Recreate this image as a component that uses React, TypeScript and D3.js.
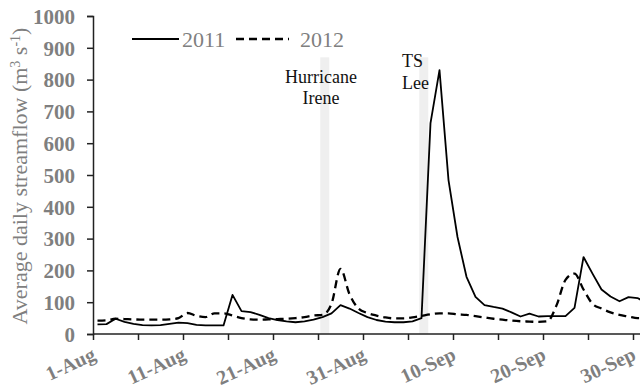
import { useEffect, useRef } from "react";
import * as d3 from "d3";

// daily mean streamflow, 1-Aug .. 1-Oct (m3/s)
const flow2011 = [
  30, 31, 48, 38, 32, 28, 27, 28, 32, 36, 34, 29, 27, 27, 27, 123, 72, 69, 60, 50, 44,
  40, 37, 40, 45, 53, 65, 91, 80, 66, 53, 44, 39, 37, 37, 40, 50, 663, 830, 484, 305,
  180, 117, 91, 85, 80, 68, 55, 64, 55, 56, 56, 56, 82, 242, 190, 140, 118, 103, 116,
  113, 98,
];
const flow2012 = [
  42, 43, 48, 47, 46, 45, 45, 45, 46, 50, 66, 57, 53, 65, 65, 58, 50, 46, 45, 46, 47,
  48, 50, 53, 58, 60, 95, 205, 125, 80, 66, 58, 52, 49, 49, 52, 57, 62, 65, 65, 62,
  60, 56, 52, 48, 45, 42, 40, 39, 38, 40, 90, 170, 190, 140, 95, 80, 68, 60, 55, 50,
  50,
];
const yTicks = [0, 100, 200, 300, 400, 500, 600, 700, 800, 900, 1000];
const xLabels = ["1-Aug", "11-Aug", "21-Aug", "31-Aug", "10-Sep", "20-Sep", "30-Sep"];
const events = [
  { name: ["Hurricane", "Irene"], start: "2011-08-26T06:00", end: "2011-08-27T06:00", top: 870 },
  { name: ["TS", "Lee"], start: "2011-09-06T06:00", end: "2011-09-07T06:00", top: 870 },
];

const W = 640;
const H = 391;
const gray = "#7f7f7f";
const serif = "'Liberation Serif', 'Times New Roman', serif";

export default function App() {
  const ref = useRef<SVGSVGElement>(null);

  useEffect(() => {
    const svg = d3.select(ref.current);
    svg.selectAll("*").remove();

    const start = new Date(2011, 7, 1);
    // points sit in the middle of each day (between tick marks)
    const days = d3.timeDay
      .range(start, d3.timeDay.offset(start, flow2011.length))
      .map((d) => d3.timeHour.offset(d, 12));
    const x = d3.scaleTime().domain([start, new Date(2011, 8, 30)]).range([93, 633]);
    const y = d3.scaleLinear().domain([0, 1000]).range([334, 16]);

    // event bands
    svg.selectAll("rect.ev")
      .data(events)
      .enter()
      .append("rect")
      .attr("x", (d) => x(new Date(d.start)))
      .attr("width", (d) => x(new Date(d.end)) - x(new Date(d.start)))
      .attr("y", (d) => y(d.top))
      .attr("height", (d) => y(0) - y(d.top))
      .attr("fill", "#efefef");

    // y axis
    const yAxis = svg.append("g").attr("transform", "translate(93,0)")
      .call(d3.axisLeft(y).tickValues(yTicks).tickSize(6).tickPadding(12).tickFormat(d3.format("d")));
    yAxis.select(".domain").attr("stroke", "#222").attr("stroke-width", 1.5);
    yAxis.selectAll(".tick line").attr("stroke", "#222").attr("stroke-width", 1.5);
    yAxis.selectAll(".tick text")
      .attr("fill", gray)
      .attr("font-family", serif)
      .attr("font-weight", "bold")
      .attr("font-size", 21)
      .attr("dy", "0.35em");

    // x axis
    const fiveDays = d3.timeDay.range(start, new Date(2011, 9, 1), 5);
    const xAxis = svg.append("g").attr("transform", "translate(0,334)")
      .call(d3.axisBottom(x).tickValues(fiveDays).tickSize(6).tickFormat(() => ""));
    xAxis.select(".domain").attr("stroke", "#222").attr("stroke-width", 1.5)
      .attr("d", `M93,0H${W}`);
    xAxis.selectAll(".tick line").attr("stroke", "#222").attr("stroke-width", 1.5);

    svg.append("g")
      .selectAll("text")
      .data(xLabels)
      .enter()
      .append("text")
      .attr("transform", (_, i) => `translate(${x(fiveDays[i * 2]) + 4},359) rotate(-25)`)
      .attr("text-anchor", "end")
      .attr("fill", gray)
      .attr("font-family", serif)
      .attr("font-weight", "bold")
      .attr("font-size", 20)
      .text((d) => d);

    // y title
    svg.append("text")
      .attr("transform", "translate(27,176) rotate(-90)")
      .attr("text-anchor", "middle")
      .attr("fill", gray)
      .attr("font-family", serif)
      .attr("font-size", 22)
      .html("Average daily streamflow (m<tspan dy='-7' font-size='14'>3</tspan><tspan dy='7'> s</tspan><tspan dy='-7' font-size='14'>-1</tspan><tspan dy='7'>)</tspan>");

    // lines
    const line2011 = d3.line<number>()
      .x((_, i) => x(days[i]))
      .y((d) => y(d));
    const line2012 = d3.line<number>()
      .x((_, i) => x(days[i]))
      .y((d) => y(d))
      .curve(d3.curveMonotoneX);

    svg.append("path")
      .attr("d", line2012(flow2012))
      .attr("fill", "none")
      .attr("stroke", "#000")
      .attr("stroke-width", 2.3)
      .attr("stroke-dasharray", "8,5");

    svg.append("path")
      .attr("d", line2011(flow2011))
      .attr("fill", "none")
      .attr("stroke", "#000")
      .attr("stroke-width", 1.8)
      .attr("stroke-linejoin", "round");

    // event labels
    const irene = svg.append("text")
      .attr("text-anchor", "middle")
      .attr("font-family", serif)
      .attr("font-size", 18)
      .attr("fill", "#111");
    irene.append("tspan").attr("x", 321).attr("y", 83).text(events[0].name[0]);
    irene.append("tspan").attr("x", 321).attr("y", 104).text(events[0].name[1]);

    const lee = svg.append("text")
      .attr("font-family", serif)
      .attr("font-size", 18)
      .attr("fill", "#111");
    lee.append("tspan").attr("x", 402).attr("y", 67).text(events[1].name[0]);
    lee.append("tspan").attr("x", 402).attr("y", 89).text(events[1].name[1]);

    // legend
    const legend = [
      { label: "2011", dash: null, x1: 132, x2: 179, tx: 182 },
      { label: "2012", dash: "8,5", x1: 236, x2: 289, tx: 300 },
    ];
    legend.forEach((l) => {
      svg.append("line")
        .attr("x1", l.x1).attr("x2", l.x2)
        .attr("y1", 39).attr("y2", 39)
        .attr("stroke", "#000")
        .attr("stroke-width", l.dash ? 2.3 : 1.8)
        .attr("stroke-dasharray", l.dash);
      svg.append("text")
        .attr("x", l.tx).attr("y", 47)
        .attr("fill", gray)
        .attr("font-family", serif)
        .attr("font-size", 22)
        .text(l.label);
    });
  }, []);

  return (
    <svg
      ref={ref}
      width={W}
      height={H}
      style={{ position: "absolute", left: 0, top: 0, background: "#fff" }}
    />
  );
}
